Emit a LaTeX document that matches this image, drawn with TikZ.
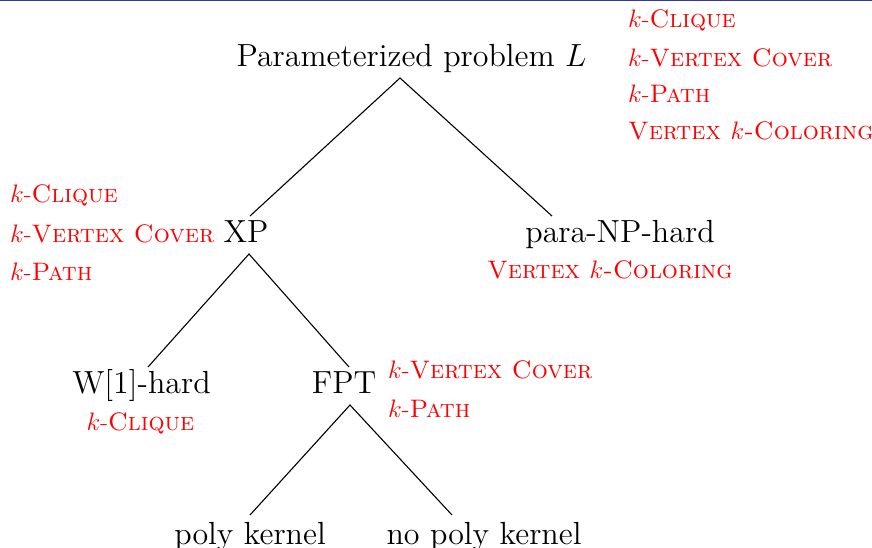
\documentclass[tikz,border=0pt]{standalone}
\usepackage{fix-cm}
\usepackage{fontspec}
\newfontfamily\treefont{lmroman12-regular.otf}
\begin{document}
\begin{tikzpicture}[x=1pt,y=-1pt,
  main/.style={font=\treefont\fontsize{32}{38}\selectfont, inner sep=0pt, anchor=base},
  ex/.style={font=\fontsize{25.3}{30}\selectfont, text=red, inner sep=0pt, anchor=base west},
  exc/.style={ex, anchor=base},
  edge/.style={line width=1.1pt, black}]
\useasboundingbox (0,0) rectangle (872,548);
\fill[fill={rgb,255:red,51;green,51;blue,179}] (0,0) rectangle (872,1.5);

% tree nodes
\node[main] (root) at (411.5,67) {Parameterized problem $L$};
\node[main] (xp)   at (246,242) {XP};
\node[main] (pnp)  at (620,242) {para-NP-hard};
\node[main] (w1)   at (141.5,393) {W[1]-hard};
\node[main] (fpt)  at (344,393) {FPT};
\node[main] (pk)   at (250,544) {poly kernel};
\node[main] (npk)  at (484,544) {no poly kernel};

% edge end points
\coordinate (rootS) at (400,78);
\coordinate (xpN)   at (250,216);
\coordinate (pnpN)  at (552,216);
\coordinate (xpS)   at (249,254);
\coordinate (w1N)   at (148,367);
\coordinate (fptN)  at (349,367);
\coordinate (fptS)  at (350,405);
\coordinate (pkN)   at (250,515);
\coordinate (npkN)  at (452,515);

\draw[edge] (xpN) -- (rootS) -- (pnpN);
\draw[edge] (w1N) -- (xpS) -- (fptN);
\draw[edge] (pkN) -- (fptS) -- (npkN);

% example problems
\node[ex] (t1) at (628,28)  {$k$-\textsc{Clique}};
\node[ex] (t2) at (628,67)  {$k$-\textsc{Vertex Cover}};
\node[ex] (t3) at (628,103) {$k$-\textsc{Path}};
\node[ex] (t4) at (628,140) {\textsc{Vertex $k$-Coloring}};

\node[ex] (l1) at (10,203) {$k$-\textsc{Clique}};
\node[ex] (l2) at (10,242) {$k$-\textsc{Vertex Cover}};
\node[ex] (l3) at (10,280) {$k$-\textsc{Path}};

\node[exc] (p1) at (610,278) {\textsc{Vertex $k$-Coloring}};
\node[exc] (w1a) at (140.5,430) {$k$-\textsc{Clique}};

\node[ex] (f1) at (388,378) {$k$-\textsc{Vertex Cover}};
\node[ex] (f2) at (388,417) {$k$-\textsc{Path}};
\end{tikzpicture}
\end{document}
